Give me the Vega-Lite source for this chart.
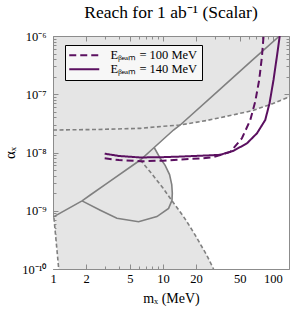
{
  "$schema": "https://vega.github.io/schema/vega-lite/v6.json",
  "width": 236,
  "height": 233,
  "autosize": {"type": "none"},
  "padding": {"left": 53, "top": 36, "right": 3, "bottom": 40},
  "background": "white",
  "title": {"text": "Reach for 1 ab⁻¹ (Scalar)", "font": "Liberation Serif", "fontSize": 17.5, "fontWeight": "normal", "anchor": "middle", "offset": 9, "color": "black"},
  "config": {
    "view": {"fill": "#e5e5e5", "stroke": "#8c8c8c", "strokeWidth": 1},
    "font": "Liberation Serif",
    "axis": {"grid": false, "domain": false, "tickColor": "#8c8c8c", "tickWidth": 1, "labelFont": "Liberation Serif", "labelFontSize": 12.5, "labelColor": "black", "titleFont": "Liberation Serif", "titleFontWeight": "normal", "titleColor": "black", "labelFlush": false, "labelOverlap": false}
  },
  "datasets": {
    "white": [
      {"part": "main", "m": 8.318, "lo": 1.219e-8, "hi": 1.219e-8},
      {"part": "main", "m": 9.441, "lo": 7.943e-9, "hi": 1.514e-8},
      {"part": "main", "m": 10.47, "lo": 6.026e-9, "hi": 1.807e-8},
      {"part": "main", "m": 11.48, "lo": 4.169e-9, "hi": 2.113e-8},
      {"part": "main", "m": 12.02, "lo": 2.818e-9, "hi": 2.291e-8},
      {"part": "main", "m": 12.16, "lo": 1.995e-9, "hi": 2.333e-8},
      {"part": "main", "m": 12.2, "lo": 1.42e-9, "hi": 2.34e-8},
      {"part": "main", "m": 13.18, "lo": 1.175e-9, "hi": 2.63e-8},
      {"part": "main", "m": 14.35, "lo": 9.48e-10, "hi": 2.965e-8},
      {"part": "main", "m": 15.38, "lo": 7.94e-10, "hi": 3.034e-8},
      {"part": "main", "m": 17.7, "lo": 5.25e-10, "hi": 3.17e-8},
      {"part": "main", "m": 19.95, "lo": 3.63e-10, "hi": 3.296e-8},
      {"part": "main", "m": 25.12, "lo": 1.698e-10, "hi": 3.548e-8},
      {"part": "main", "m": 28.84, "lo": 1e-10, "hi": 3.75e-8},
      {"part": "main", "m": 39.81, "lo": 1e-10, "hi": 4.266e-8},
      {"part": "main", "m": 64.57, "lo": 1e-10, "hi": 5.21e-8},
      {"part": "main", "m": 100, "lo": 1e-10, "hi": 6.918e-8},
      {"part": "main", "m": 140, "lo": 1e-10, "hi": 9.02e-8},
      {"part": "strip", "m": 1, "lo": 1e-10, "hi": 7.76e-10},
      {"part": "strip", "m": 1.019, "lo": 1e-10, "hi": 7.59e-10},
      {"part": "strip", "m": 1.059, "lo": 1e-10, "hi": 3.548e-10},
      {"part": "strip", "m": 1.096, "lo": 1e-10, "hi": 1.778e-10},
      {"part": "strip", "m": 1.127, "lo": 1e-10, "hi": 1e-10}
    ],
    "gray": [
      {"curve": "diag", "ord": 0, "m": 1, "a": 7.76e-10},
      {"curve": "diag", "ord": 1, "m": 1.837, "a": 1.479e-9},
      {"curve": "diag", "ord": 2, "m": 2.183, "a": 1.862e-9},
      {"curve": "diag", "ord": 3, "m": 3.162, "a": 3.04e-9},
      {"curve": "diag", "ord": 4, "m": 6.223, "a": 7.43e-9},
      {"curve": "diag", "ord": 5, "m": 8.318, "a": 1.219e-8},
      {"curve": "diag", "ord": 6, "m": 12.47, "a": 2.432e-8},
      {"curve": "diag", "ord": 7, "m": 14.35, "a": 2.965e-8},
      {"curve": "diag", "ord": 8, "m": 31.62, "a": 1.135e-7},
      {"curve": "diag", "ord": 9, "m": 63.1, "a": 3.67e-7},
      {"curve": "diag", "ord": 10, "m": 114.8, "a": 1e-6},
      {"curve": "contour", "ord": 0, "m": 1.837, "a": 1.479e-9},
      {"curve": "contour", "ord": 1, "m": 2.692, "a": 1.023e-9},
      {"curve": "contour", "ord": 2, "m": 3.811, "a": 7.41e-10},
      {"curve": "contour", "ord": 3, "m": 5.998, "a": 6.46e-10},
      {"curve": "contour", "ord": 4, "m": 8.81, "a": 7.94e-10},
      {"curve": "contour", "ord": 5, "m": 11.25, "a": 1.096e-9},
      {"curve": "contour", "ord": 6, "m": 12.08, "a": 1.514e-9},
      {"curve": "contour", "ord": 7, "m": 12.16, "a": 1.995e-9},
      {"curve": "contour", "ord": 8, "m": 12.02, "a": 2.818e-9},
      {"curve": "contour", "ord": 9, "m": 11.48, "a": 4.169e-9},
      {"curve": "contour", "ord": 10, "m": 10.47, "a": 6.026e-9},
      {"curve": "contour", "ord": 11, "m": 9.441, "a": 7.943e-9},
      {"curve": "contour", "ord": 12, "m": 8.318, "a": 1.219e-8},
      {"curve": "upper", "ord": 0, "m": 1, "a": 2.432e-8},
      {"curve": "upper", "ord": 1, "m": 2.512, "a": 2.483e-8},
      {"curve": "upper", "ord": 2, "m": 6.223, "a": 2.6e-8},
      {"curve": "upper", "ord": 3, "m": 10, "a": 2.818e-8},
      {"curve": "upper", "ord": 4, "m": 14.35, "a": 2.965e-8},
      {"curve": "upper", "ord": 5, "m": 25.12, "a": 3.548e-8},
      {"curve": "upper", "ord": 6, "m": 39.81, "a": 4.266e-8},
      {"curve": "upper", "ord": 7, "m": 64.57, "a": 5.21e-8},
      {"curve": "upper", "ord": 8, "m": 100, "a": 6.918e-8},
      {"curve": "upper", "ord": 9, "m": 140, "a": 9.02e-8},
      {"curve": "desc", "ord": 0, "m": 6.223, "a": 7.43e-9},
      {"curve": "desc", "ord": 1, "m": 7.943, "a": 4.266e-9},
      {"curve": "desc", "ord": 2, "m": 10, "a": 2.455e-9},
      {"curve": "desc", "ord": 3, "m": 12.08, "a": 1.479e-9},
      {"curve": "desc", "ord": 4, "m": 15.38, "a": 7.94e-10},
      {"curve": "desc", "ord": 5, "m": 17.7, "a": 5.25e-10},
      {"curve": "desc", "ord": 6, "m": 19.95, "a": 3.63e-10},
      {"curve": "desc", "ord": 7, "m": 25.12, "a": 1.698e-10},
      {"curve": "desc", "ord": 8, "m": 28.84, "a": 1e-10},
      {"curve": "vert", "ord": 0, "m": 1.019, "a": 7.59e-10},
      {"curve": "vert", "ord": 1, "m": 1.059, "a": 3.548e-10},
      {"curve": "vert", "ord": 2, "m": 1.096, "a": 1.778e-10},
      {"curve": "vert", "ord": 3, "m": 1.127, "a": 1e-10}
    ],
    "reach": [
      {"beam": "100", "m": 2.951, "a": 7.94e-9},
      {"beam": "100", "m": 3.981, "a": 7.41e-9},
      {"beam": "100", "m": 6.223, "a": 7.08e-9},
      {"beam": "100", "m": 10, "a": 7.24e-9},
      {"beam": "100", "m": 14.35, "a": 7.59e-9},
      {"beam": "100", "m": 22.39, "a": 7.94e-9},
      {"beam": "100", "m": 28.84, "a": 8.32e-9},
      {"beam": "100", "m": 40.93, "a": 1.023e-8},
      {"beam": "100", "m": 52.24, "a": 1.754e-8},
      {"beam": "100", "m": 62.23, "a": 3.614e-8},
      {"beam": "100", "m": 69.02, "a": 7.447e-8},
      {"beam": "100", "m": 74.99, "a": 1.758e-7},
      {"beam": "100", "m": 79.43, "a": 4.416e-7},
      {"beam": "100", "m": 82.22, "a": 1e-6},
      {"beam": "140", "m": 2.951, "a": 9.55e-9},
      {"beam": "140", "m": 3.981, "a": 8.71e-9},
      {"beam": "140", "m": 6.223, "a": 8.22e-9},
      {"beam": "140", "m": 10, "a": 8.32e-9},
      {"beam": "140", "m": 14.35, "a": 8.51e-9},
      {"beam": "140", "m": 22.39, "a": 8.81e-9},
      {"beam": "140", "m": 33.19, "a": 9.12e-9},
      {"beam": "140", "m": 43.85, "a": 1.072e-8},
      {"beam": "140", "m": 58.08, "a": 1.439e-8},
      {"beam": "140", "m": 71.61, "a": 2.138e-8},
      {"beam": "140", "m": 85.11, "a": 3.614e-8},
      {"beam": "140", "m": 93.11, "a": 6.998e-8},
      {"beam": "140", "m": 101.2, "a": 1.758e-7},
      {"beam": "140", "m": 108.6, "a": 4.416e-7},
      {"beam": "140", "m": 115.3, "a": 1e-6}
    ]
  },
  "resolve": {"axis": {"x": "independent", "y": "independent"}},
  "layer": [
    {
      "data": {"name": "white"},
      "mark": {"type": "area", "color": "white", "clip": true},
      "encoding": {
        "x": {"field": "m", "type": "quantitative", "scale": {"type": "log", "domain": [1, 140]},
          "axis": {"orient": "bottom", "values": [1, 2, 5, 10, 20, 50, 100], "labelExpr": "format(datum.value, 'd')", "tickSize": -5, "labelPadding": 8, "title": "mₓ (MeV)", "titleFontSize": 14, "titlePadding": 7}},
        "y": {"field": "lo", "type": "quantitative", "scale": {"type": "log", "domain": [1e-10, 1e-6]},
          "axis": {"orient": "left", "values": [1e-10, 1e-9, 1e-8, 1e-7, 1e-6], "labelExpr": "datum.value >= 9.9e-7 ? '10⁻⁶' : datum.value >= 9.9e-8 ? '10⁻⁷' : datum.value >= 9.9e-9 ? '10⁻⁸' : datum.value >= 9.9e-10 ? '10⁻⁹' : '10⁻¹⁰'", "tickSize": -5, "labelPadding": 12, "title": "αₓ", "titleFontSize": 15, "titlePadding": 4}},
        "y2": {"field": "hi"},
        "detail": {"field": "part"}
      }
    },
    {
      "data": {"name": "gray"},
      "transform": [{"filter": "datum.curve == 'diag' || datum.curve == 'contour'"}],
      "mark": {"type": "line", "color": "#808080", "strokeWidth": 1.6, "clip": true},
      "encoding": {
        "x": {"field": "m", "type": "quantitative", "scale": {"type": "log", "domain": [1, 140]},
          "axis": {"orient": "bottom", "values": [3, 4, 6, 7, 8, 9, 30, 40, 60, 70, 80, 90], "labels": false, "tickSize": -3, "title": null}},
        "y": {"field": "a", "type": "quantitative", "scale": {"type": "log", "domain": [1e-10, 1e-6]},
          "axis": {"orient": "left", "values": [2e-10, 3e-10, 4e-10, 5e-10, 6e-10, 7e-10, 8e-10, 9e-10, 2e-9, 3e-9, 4e-9, 5e-9, 6e-9, 7e-9, 8e-9, 9e-9, 2e-8, 3e-8, 4e-8, 5e-8, 6e-8, 7e-8, 8e-8, 9e-8, 2e-7, 3e-7, 4e-7, 5e-7, 6e-7, 7e-7, 8e-7, 9e-7], "labels": false, "tickSize": -3, "title": null}},
        "detail": {"field": "curve"},
        "order": {"field": "ord"}
      }
    },
    {
      "data": {"name": "gray"},
      "transform": [{"filter": "datum.curve == 'upper' || datum.curve == 'desc' || datum.curve == 'vert'"}],
      "mark": {"type": "line", "color": "#808080", "strokeWidth": 1.6, "strokeDash": [4, 2.5], "clip": true},
      "encoding": {
        "x": {"field": "m", "type": "quantitative", "scale": {"type": "log", "domain": [1, 140]},
          "axis": {"orient": "top", "values": [1, 2, 5, 10, 20, 50, 100], "labels": false, "tickSize": -5, "title": null}},
        "y": {"field": "a", "type": "quantitative", "scale": {"type": "log", "domain": [1e-10, 1e-6]},
          "axis": {"orient": "right", "values": [1e-10, 1e-9, 1e-8, 1e-7, 1e-6], "labels": false, "tickSize": -5, "title": null}},
        "detail": {"field": "curve"},
        "order": {"field": "ord"}
      }
    },
    {
      "data": {"name": "reach"},
      "mark": {"type": "line", "strokeWidth": 2, "clip": true},
      "encoding": {
        "x": {"field": "m", "type": "quantitative", "scale": {"type": "log", "domain": [1, 140]},
          "axis": {"orient": "top", "values": [3, 4, 6, 7, 8, 9, 30, 40, 60, 70, 80, 90], "labels": false, "tickSize": -3, "title": null}},
        "y": {"field": "a", "type": "quantitative", "scale": {"type": "log", "domain": [1e-10, 1e-6]},
          "axis": {"orient": "right", "values": [2e-10, 3e-10, 4e-10, 5e-10, 6e-10, 7e-10, 8e-10, 9e-10, 2e-9, 3e-9, 4e-9, 5e-9, 6e-9, 7e-9, 8e-9, 9e-9, 2e-8, 3e-8, 4e-8, 5e-8, 6e-8, 7e-8, 8e-8, 9e-8, 2e-7, 3e-7, 4e-7, 5e-7, 6e-7, 7e-7, 8e-7, 9e-7], "labels": false, "tickSize": -3, "title": null}},
        "color": {"field": "beam", "type": "nominal", "scale": {"domain": ["100", "140"], "range": ["#5b1060", "#5b1060"]},
          "legend": {"title": null, "orient": "none", "legendX": 12, "legendY": 9, "fillColor": "#f7f7f7", "strokeColor": "black", "padding": 4, "symbolType": "M-3,0H3", "symbolSize": 100, "symbolOffset": 9, "symbolStrokeWidth": 2, "labelFont": "Liberation Serif", "labelFontSize": 12.5, "labelColor": "black", "rowPadding": 1, "labelOffset": 20, "labelExpr": "'Eᵦₑₐₘ = ' + datum.label + ' MeV'"}},
        "strokeDash": {"field": "beam", "type": "nominal", "scale": {"domain": ["100", "140"], "range": [[7, 4], [1, 0]]},
          "legend": {"title": null, "orient": "none", "legendX": 12, "legendY": 9, "fillColor": "#f7f7f7", "strokeColor": "black", "padding": 4, "symbolType": "M-3,0H3", "symbolSize": 100, "symbolOffset": 9, "symbolStrokeWidth": 2, "labelFont": "Liberation Serif", "labelFontSize": 12.5, "labelColor": "black", "rowPadding": 1, "labelOffset": 20, "labelExpr": "'Eᵦₑₐₘ = ' + datum.label + ' MeV'"}}
      }
    }
  ]
}
